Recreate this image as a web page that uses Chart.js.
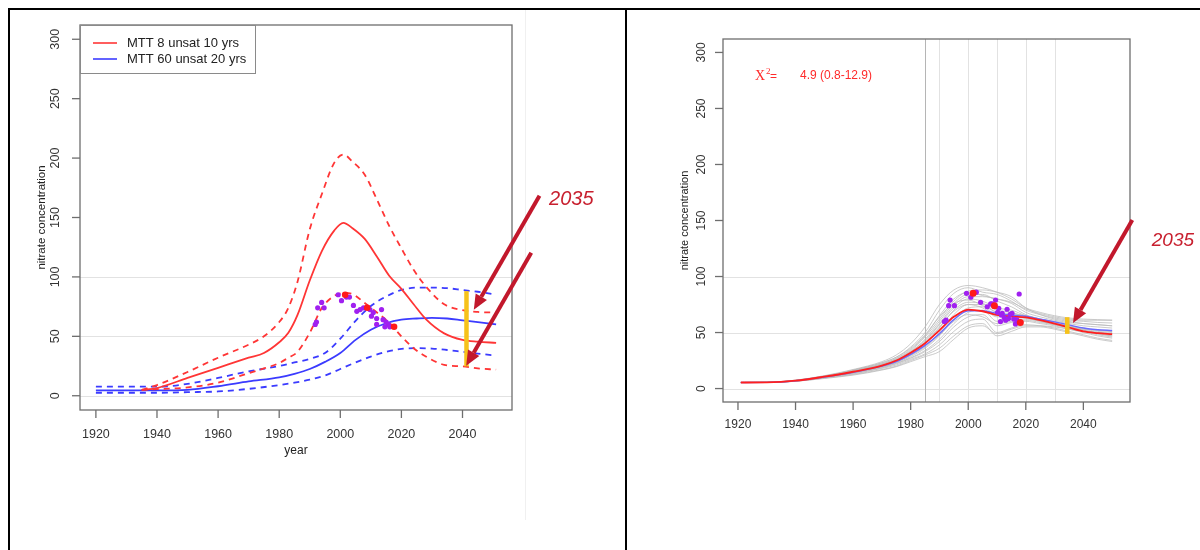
<!DOCTYPE html>
<html>
<head>
<meta charset="utf-8">
<script src="https://cdn.jsdelivr.net/npm/chart.js@4.4.1/dist/chart.umd.min.js"></script>
<style>
  body { margin: 0; background: #fff; width: 1200px; height: 550px; overflow: hidden; position: relative; }
  canvas { position: absolute; top: 0; }
  #left-chart { left: 0; }
  #right-chart { left: 627px; }
  .rule { position: absolute; background: #000; }
</style>
</head>
<body>
<div style="position:absolute;left:525px;top:10px;width:1px;height:510px;background:#f0f0f0"></div>
<canvas id="left-chart" width="625" height="550"></canvas>
<canvas id="right-chart" width="573" height="550"></canvas>
<div class="rule" style="left:8px;top:8px;width:1192px;height:2px"></div>
<div class="rule" style="left:8px;top:8px;width:2px;height:542px"></div>
<div class="rule" style="left:625px;top:8px;width:2px;height:542px"></div>
<script>
// Nitrate concentration model runs, two panels

const xTickLabels = [1920, 1940, 1960, 1980, 2000, 2020, 2040];
const yTickLabels = [0, 50, 100, 150, 200, 250, 300];

// ---- left panel: MTT 8 (red) and MTT 60 (blue) with upper/lower bands
const mtt8Years = [1935, 1940, 1950, 1960, 1970, 1975, 1980, 1983, 1986, 1990, 1994, 1998, 2001, 2004, 2008, 2012, 2016, 2020, 2024, 2028, 2034, 2040, 2045, 2051];
const mtt8Mid   = [5, 6.5, 15, 23.5, 32, 36, 45, 53, 68, 97, 122, 139, 145.5, 141, 132, 117, 101, 90, 77, 64.5, 52.5, 47, 45.5, 44.5];
const mtt8Hi    = [5, 9, 20, 32, 43, 50, 62, 74, 96, 140, 170, 196, 203, 197, 186, 165, 143, 124, 106, 92, 77, 72, 70.5, 70];
const mtt8Lo    = [5, 5.5, 7, 11, 19, 23, 27.5, 32, 37, 53, 74, 84, 86.5, 85.5, 78, 70, 61.5, 50, 40, 33, 26, 24.7, 23, 22];

const mtt60Years = [1920, 1930, 1940, 1950, 1960, 1970, 1980, 1985, 1990, 1995, 2000, 2005, 2010, 2015, 2020, 2025, 2030, 2035, 2040, 2045, 2051];
const mtt60Mid   = [4.5, 4.5, 4.5, 5, 8, 12, 15.5, 18.5, 22.5, 28.5, 36, 47, 55.5, 61, 64, 65, 65.6, 65, 63.5, 62, 60];
const mtt60Hi    = [7.6, 7.6, 7.6, 10, 15, 20.5, 25, 28, 31, 36, 48, 63, 75.5, 83.5, 89, 91, 91, 90.5, 89, 87.5, 85];
const mtt60Lo    = [2.5, 2.5, 2.5, 3, 3.6, 5.8, 9, 11, 13.5, 17, 22.5, 28, 33, 37, 39.4, 40, 39.7, 38.5, 37, 35.5, 33.7];

const obsLeftYears  = [1991.8, 1992.2, 1993.9, 1994.7, 1992.6, 1999.3, 2000.4, 2002, 2003, 2004.3, 2005.4, 2006.5, 2007.6, 2009.7, 2010.2, 2010.8, 2011.9, 2013.5, 2011.9, 2014, 2015, 2015.7, 2016.2, 2014.6];
const obsLeftValues = [60, 62, 78.5, 74, 74, 85, 80, 83, 83, 76, 71, 72.5, 74, 72.5, 67, 70, 65, 72.5, 60, 64, 62, 60, 58, 58];
const keyLeftYears  = [2001.6, 2008.8, 2017.6];
const keyLeftValues = [85, 74, 58];

const markLeftYear  = 2041.3;
const markLeftRange = [24.7, 88];

// ---- right panel: fitted mean (red), alternative (blue), ensemble (grey)
const fitYears = [1921, 1930, 1940, 1950, 1960, 1970, 1975, 1980, 1985, 1990, 1995, 2000, 2005, 2010, 2015, 2020, 2025, 2030, 2035, 2040, 2045, 2050];
const fitRed   = [5.4, 5.5, 7, 10.6, 15, 20.5, 25, 32, 40.5, 52, 64, 70.5, 69, 65.7, 64.2, 63.6, 61, 58, 54.5, 51, 49.5, 48.5];
const fitBlue  = [5.4, 5.5, 7, 10.3, 14.5, 20, 24, 30.5, 38.5, 49, 61.5, 69.5, 69.5, 67, 65.5, 64.5, 62, 59.5, 56.8, 54, 52.5, 51.8];
const ensemble = [
  [5.4, 5.6, 7.5, 11.5, 17, 24, 30, 40, 55, 75, 88, 92, 90, 86, 80, 72, 68, 65, 63, 62, 61.5, 61],
  [5.4, 5.6, 7.4, 11, 16.5, 23, 28, 37, 50, 70, 85, 90, 86, 84, 78, 70, 66, 63, 61, 60, 59, 58.5],
  [5.4, 5.5, 7.2, 11, 16, 22, 27, 35, 47, 65, 80, 86, 83, 80, 76, 68, 64, 61, 59, 58, 57, 56],
  [5.4, 5.5, 7.2, 10.8, 15.5, 21.5, 26, 33, 44, 60, 76, 84, 84, 78, 73, 66, 62, 60, 58, 56, 55, 54],
  [5.4, 5.5, 7, 10.5, 15, 21, 25, 32, 42, 57, 72, 80, 78, 72, 70, 65, 61, 58, 56, 54, 52, 51],
  [5.4, 5.5, 7, 10.5, 15, 20.5, 24.5, 31, 40, 54, 70, 77, 76, 70, 68, 64, 61, 58, 55, 52, 50, 49],
  [5.4, 5.5, 6.9, 10.2, 14.5, 20, 24, 30, 38, 50, 66, 75, 75, 68, 67, 65, 62, 59, 56, 53, 51, 50],
  [5.4, 5.5, 6.9, 10, 14, 19.5, 23, 28.5, 36, 47, 62, 72, 73, 65, 66, 65, 62, 59, 55, 52, 50, 48],
  [5.4, 5.5, 6.8, 10, 14, 19, 22.5, 27.5, 34, 44, 58, 68, 70, 60, 62, 62, 60, 57, 54, 51, 48, 46],
  [5.4, 5.4, 6.7, 9.8, 13.5, 18.5, 22, 27, 33, 42, 55, 64, 66, 56, 59, 60, 58, 56, 53, 50, 47, 45],
  [5.4, 5.4, 6.6, 9.5, 13, 18, 21, 26, 31, 39, 51, 60, 62, 50, 54, 57, 56, 54, 51, 48, 45, 43],
  [5.4, 5.4, 6.5, 9.3, 12.5, 17, 20, 25, 30, 36, 47, 56, 58, 47, 51, 55, 55, 53, 50, 47, 44, 42],
  [5.4, 5.4, 6.5, 9, 12, 16.5, 19.5, 24, 28.5, 33, 44, 54, 56, 49, 53, 56, 56, 55, 53, 51, 50, 49],
  [5.4, 5.5, 7, 10.6, 15.5, 21, 25.5, 33, 43, 58, 74, 82, 82, 80, 77, 71, 67, 64, 62, 61, 61, 61],
  [5.4, 5.5, 7.1, 10.8, 16, 22, 26.5, 34, 46, 62, 78, 87, 88, 86, 82, 72, 66, 62, 60, 58, 57, 56],
  [5.4, 5.5, 7, 10.4, 15, 20.5, 25, 31.5, 41, 55, 69, 75, 72, 64, 64, 63, 61, 58, 55, 52, 49, 47],
  [5.4, 5.5, 6.8, 10.2, 14.5, 19.5, 23.5, 29.5, 37, 48, 60, 66, 64, 58, 60, 61, 59, 57, 55, 53, 52, 51],
  [5.4, 5.5, 7.3, 11.2, 16.5, 23, 28, 36, 48, 64, 76, 79, 74, 68, 65, 63, 60, 57, 54, 51, 49, 47]
];

const obsRightYears  = [1991.7, 1992.3, 1993.2, 1993.7, 1995.2, 1999.4, 2000.9, 2002.8, 2004.3, 2006.6, 2007.8, 2009.5, 2010.2, 2010.6, 2011.2, 2011.8, 2012.5, 2013.5, 2014, 2014.6, 2015.2, 2015.8, 2016.4, 2016.9, 2017.7, 2011.5, 2013, 2008.3];
const obsRightValues = [59.8, 61, 74, 79, 74, 85, 81.5, 86, 77, 73, 75.5, 79, 68, 71.7, 59.8, 67.2, 63.3, 70.8, 62.5, 66.3, 67.2, 62, 57.7, 61.3, 84.4, 65.7, 61, 75.5];
const keyRightYears  = [2001.7, 2009.1, 2018.1];
const keyRightValues = [85, 74, 58.9];

const markRightYear  = 2034.4;
const markRightRange = [48.8, 63.7];

const vGridYears = [1990, 2000, 2010, 2020, 2030];
const vGridDark  = 1985;

const FONT = "'Liberation Sans', Arial, sans-serif";
const ARROW_RED = '#c2182c';

function pts(xs, ys) {
    return xs.map((x, i) => ({ x: x, y: ys[i] }));
}

function lineSet(xs, ys, color, width, dash, order) {
    return {
        data: pts(xs, ys),
        borderColor: color,
        borderWidth: width,
        borderDash: dash || [],
        pointRadius: 0,
        cubicInterpolationMode: 'monotone',
        order: order
    };
}

function dotSet(xs, ys, color, r, order) {
    return {
        data: pts(xs, ys),
        showLine: false,
        pointRadius: r,
        pointBackgroundColor: color,
        pointBorderWidth: 0,
        order: order
    };
}

function markSet(year, range, order) {
    return {
        data: [{ x: year, y: range[0] }, { x: year, y: range[1] }],
        borderColor: '#f6c21a',
        borderWidth: 4.5,
        borderCapStyle: 'butt',
        pointRadius: 0,
        order: order
    };
}

function hline(ctx, x1, y1, x2, y2) {
    ctx.beginPath();
    ctx.moveTo(x1, y1);
    ctx.lineTo(x2, y2);
    ctx.stroke();
}

function drawGrid(chart, hVals, vVals, vDark) {
    const { ctx, chartArea: a, scales: { x, y } } = chart;
    ctx.save();
    ctx.lineWidth = 1;
    ctx.strokeStyle = '#e2e2e2';
    hVals.forEach(v => {
        const py = Math.round(y.getPixelForValue(v)) + 0.5;
        hline(ctx, a.left, py, a.right, py);
    });
    vVals.forEach(v => {
        const px = Math.round(x.getPixelForValue(v)) + 0.5;
        hline(ctx, px, a.top, px, a.bottom);
    });
    if (vDark) {
        ctx.strokeStyle = '#b5b5b5';
        const px = Math.round(x.getPixelForValue(vDark)) + 0.5;
        hline(ctx, px, a.top, px, a.bottom);
    }
    ctx.restore();
}

function drawAxes(chart, s) {
    const { ctx, chartArea: a, scales: { x, y } } = chart;
    ctx.save();
    ctx.strokeStyle = '#6e6e6e';
    ctx.lineWidth = 1.3;
    ctx.strokeRect(a.left, a.top, a.right - a.left, a.bottom - a.top);

    ctx.fillStyle = '#333';
    ctx.font = s.tickFont + 'px ' + FONT;
    ctx.textAlign = 'center';
    ctx.textBaseline = 'middle';

    // y ticks, labels parallel to the axis
    yTickLabels.forEach(v => {
        const py = y.getPixelForValue(v);
        hline(ctx, a.left - 8, py, a.left, py);
        ctx.save();
        ctx.translate(a.left - s.yLabelGap, py);
        ctx.rotate(-Math.PI / 2);
        ctx.fillText(String(v), 0, 0);
        ctx.restore();
    });

    xTickLabels.forEach(v => {
        const px = x.getPixelForValue(v);
        hline(ctx, px, a.bottom, px, a.bottom + 8);
        ctx.fillText(String(v), px, a.bottom + s.xLabelGap);
    });

    ctx.font = s.titleFont + 'px ' + FONT;
    ctx.fillStyle = '#222';
    ctx.save();
    ctx.translate(a.left - s.yTitleGap, (a.top + a.bottom) / 2);
    ctx.rotate(-Math.PI / 2);
    ctx.fillText('nitrate concentration', 0, 0);
    ctx.restore();
    if (s.xTitle) {
        ctx.font = '12px ' + FONT;
        ctx.fillText(s.xTitle, (a.left + a.right) / 2, a.bottom + s.xTitleGap);
    }
    ctx.restore();
}

function drawArrow(chart, from, to) {
    const { ctx, scales: { x, y } } = chart;
    const x1 = x.getPixelForValue(from[0]), y1 = y.getPixelForValue(from[1]);
    const x2 = x.getPixelForValue(to[0]), y2 = y.getPixelForValue(to[1]);
    const ang = Math.atan2(y2 - y1, x2 - x1);
    const head = 15, half = 6.5;
    const bx = x2 - head * Math.cos(ang), by = y2 - head * Math.sin(ang);
    ctx.save();
    ctx.strokeStyle = ARROW_RED;
    ctx.fillStyle = ARROW_RED;
    ctx.lineWidth = 4;
    hline(ctx, x1, y1, bx, by);
    ctx.beginPath();
    ctx.moveTo(x2, y2);
    ctx.lineTo(bx - half * Math.sin(ang), by + half * Math.cos(ang));
    ctx.lineTo(bx + half * Math.sin(ang), by - half * Math.cos(ang));
    ctx.closePath();
    ctx.fill();
    ctx.restore();
}

function drawLabel2035(chart, at, size) {
    const { ctx, scales: { x, y } } = chart;
    ctx.save();
    ctx.fillStyle = '#c8202f';
    ctx.font = 'italic ' + size + 'px ' + FONT;
    ctx.textAlign = 'center';
    ctx.textBaseline = 'middle';
    ctx.fillText('2035', x.getPixelForValue(at[0]), y.getPixelForValue(at[1]));
    ctx.restore();
}

function baseOptions(padding) {
    return {
        responsive: false,
        animation: false,
        devicePixelRatio: 1,
        events: [],
        layout: { padding: padding },
        plugins: { legend: { display: false }, tooltip: { enabled: false } },
        scales: {
            x: { type: 'linear', min: 1914.8, max: 2056.2, display: false },
            y: { type: 'linear', min: -12, max: 312, display: false }
        }
    };
}

// ---- left chart
const leftDecor = {
    id: 'leftDecor',
    beforeDatasetsDraw(chart) {
        drawGrid(chart, [0, 50, 100], [], null);
    },
    afterDraw(chart) {
        drawAxes(chart, { tickFont: 12.5, yLabelGap: 24, xLabelGap: 25, titleFont: 11.5, yTitleGap: 38, xTitle: 'year', xTitleGap: 41 });
        const { ctx, chartArea: a } = chart;
        // legend
        ctx.save();
        ctx.strokeStyle = '#8a8a8a';
        ctx.lineWidth = 1;
        ctx.strokeRect(a.left + 0.5, a.top + 0.5, 175, 48);
        ctx.font = '13px ' + FONT;
        ctx.fillStyle = '#222';
        ctx.textBaseline = 'middle';
        [['MTT 8 unsat 10 yrs', '#ff3535', 18], ['MTT 60 unsat 20 yrs', '#3b3bff', 34]].forEach(([t, c, dy]) => {
            ctx.strokeStyle = c;
            ctx.lineWidth = 1.6;
            hline(ctx, a.left + 13, a.top + dy, a.left + 37, a.top + dy);
            ctx.fillText(t, a.left + 47, a.top + dy);
        });
        ctx.restore();
        drawArrow(chart, [2065.2, 168.4], [2043.7, 72.4]);
        drawArrow(chart, [2062.5, 120.4], [2041.2, 25.3]);
        drawLabel2035(chart, [2075.6, 165], 20);
    }
};

new Chart(document.getElementById('left-chart'), {
    type: 'line',
    data: {
        datasets: [
            markSet(markLeftYear, markLeftRange, 0),
            dotSet(keyLeftYears, keyLeftValues, '#ff1a1a', 3.3, 1),
            dotSet(obsLeftYears, obsLeftValues, '#a020f0', 2.6, 2),
            lineSet(mtt8Years, mtt8Mid, '#ff3535', 1.8, null, 3),
            lineSet(mtt8Years, mtt8Hi, '#ff3535', 1.8, [6, 5], 4),
            lineSet(mtt8Years, mtt8Lo, '#ff3535', 1.8, [6, 5], 5),
            lineSet(mtt60Years, mtt60Mid, '#3b3bff', 1.8, null, 6),
            lineSet(mtt60Years, mtt60Hi, '#3b3bff', 1.8, [6, 5], 7),
            lineSet(mtt60Years, mtt60Lo, '#3b3bff', 1.8, [6, 5], 8)
        ]
    },
    options: baseOptions({ left: 80, right: 113, top: 25, bottom: 140 }),
    plugins: [leftDecor]
});

// ---- right chart
const rightDecor = {
    id: 'rightDecor',
    beforeDatasetsDraw(chart) {
        drawGrid(chart, [0, 50, 100], vGridYears, vGridDark);
    },
    afterDraw(chart) {
        drawAxes(chart, { tickFont: 12, yLabelGap: 21, xLabelGap: 23, titleFont: 11, yTitleGap: 38 });
        const { ctx, chartArea: a } = chart;
        ctx.save();
        ctx.fillStyle = '#ff2a2a';
        ctx.textBaseline = 'alphabetic';
        ctx.font = '14px "Liberation Serif", "Times New Roman", serif';
        ctx.fillText('X', a.left + 32, a.top + 41);
        ctx.font = '9px "Liberation Serif", "Times New Roman", serif';
        ctx.fillText('2', a.left + 43, a.top + 35);
        ctx.font = '12px ' + FONT;
        ctx.fillText('=', a.left + 47, a.top + 41);
        ctx.fillText('4.9 (0.8-12.9)', a.left + 77, a.top + 40);
        ctx.restore();
        drawArrow(chart, [2057.0, 150.4], [2036.4, 58.6]);
        drawLabel2035(chart, [2071.1, 131.7], 19);
    }
};

const rightSets = [
    markSet(markRightYear, markRightRange, 0),
    dotSet(keyRightYears, keyRightValues, '#ff1a1a', 3.5, 1),
    dotSet(obsRightYears, obsRightValues, '#a020f0', 2.6, 2),
    lineSet(fitYears, fitRed, '#ff1f1f', 1.8, null, 3),
    lineSet(fitYears, fitBlue, '#6a6aff', 1.4, null, 4)
];
ensemble.forEach((run, i) => {
    rightSets.push(lineSet(fitYears, run, 'rgba(185,185,185,0.75)', 1, null, 10 + i));
});

new Chart(document.getElementById('right-chart'), {
    type: 'line',
    data: { datasets: rightSets },
    options: baseOptions({ left: 96, right: 70, top: 39, bottom: 148 }),
    plugins: [rightDecor]
});
</script>
</body>
</html>
